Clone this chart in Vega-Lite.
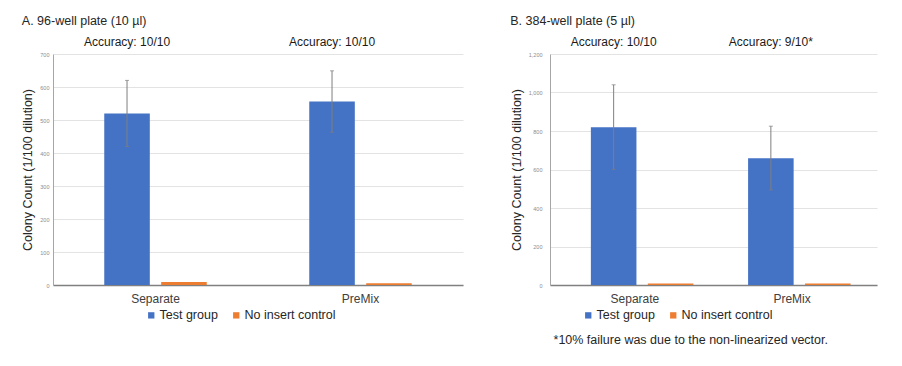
{
  "$schema": "https://vega.github.io/schema/vega-lite/v6.json",
  "padding": {"left": 21, "top": 15, "right": 5, "bottom": 5},
  "background": "white",
  "datasets": {
    "a": [
      {"method": "Separate", "group": "Test group", "count": 520, "low": 420, "high": 620, "accuracy": "Accuracy: 10/10"},
      {"method": "Separate", "group": "No insert control", "count": 9},
      {"method": "PreMix", "group": "Test group", "count": 556, "low": 463, "high": 649, "accuracy": "Accuracy: 10/10"},
      {"method": "PreMix", "group": "No insert control", "count": 5}
    ],
    "b": [
      {"method": "Separate", "group": "Test group", "count": 820, "low": 601, "high": 1040, "accuracy": "Accuracy: 10/10"},
      {"method": "Separate", "group": "No insert control", "count": 8},
      {"method": "PreMix", "group": "Test group", "count": 659, "low": 494, "high": 825, "accuracy": "Accuracy: 9/10*"},
      {"method": "PreMix", "group": "No insert control", "count": 8}
    ]
  },
  "title": {
    "text": "*10% failure was due to the non-linearized vector.",
    "orient": "bottom",
    "anchor": "end",
    "dx": -49,
    "offset": 12,
    "fontSize": 12.5,
    "fontWeight": "normal",
    "color": "#262626",
    "font": "Liberation Sans"
  },
  "spacing": 47,
  "hconcat": [
    {
      "width": 410,
      "height": 231,
      "title": {"text": "A.  96-well plate (10 µl)", "anchor": "start", "frame": "bounds", "offset": 8},
      "data": {"name": "a"},
      "encoding": {
        "x": {"field": "method", "type": "nominal", "scale": {"domain": ["Separate", "PreMix"], "paddingInner": 0.5, "paddingOuter": 0.25},
              "axis": {"title": null, "labelAngle": 0, "ticks": false, "labelPadding": 8, "labelFontSize": 12, "labelColor": "#404040", "domainColor": "#808080", "domainWidth": 1.5, "grid": false}},
        "xOffset": {"field": "group", "type": "nominal", "scale": {"domain": ["Test group", "No insert control"], "paddingInner": 0.2, "paddingOuter": 0}}
      },
      "layer": [
        {
          "mark": {"type": "bar"},
          "encoding": {
            "y": {"field": "count", "type": "quantitative", "scale": {"domain": [0, 700], "nice": false},
                  "axis": {"title": "Colony Count (1/100 dilution)", "values": [0, 100, 200, 300, 400, 500, 600, 700], "tickCount": 12, "format": ",.0f", "labelOverlap": false, "labelPadding": 4, "titlePadding": 5}},
            "color": {"field": "group", "type": "nominal", "scale": {"domain": ["Test group", "No insert control"], "range": ["#4472C4", "#ED7D31"]},
                      "legend": {"title": " ", "titleOrient": "right", "titlePadding": 36, "orient": "bottom", "direction": "horizontal", "symbolType": "square", "symbolSize": 40, "symbolStrokeWidth": 0, "labelFontSize": 12.5, "labelColor": "#262626", "labelOffset": 2, "columnPadding": 12, "offset": 5}}
          }
        },
        {
          "transform": [{"filter": "isValid(datum.low)"}],
          "mark": {"type": "rule", "color": "#7f7f7f", "strokeWidth": 1},
          "encoding": {"y": {"field": "low", "type": "quantitative", "axis": {"title": "Colony Count (1/100 dilution)", "values": [0, 100, 200, 300, 400, 500, 600, 700], "tickCount": 12, "format": ",.0f", "labelOverlap": false, "labelPadding": 4, "titlePadding": 5}}, "y2": {"field": "high"}}
        },
        {
          "transform": [{"filter": "isValid(datum.low)"}],
          "mark": {"type": "tick", "color": "#7f7f7f", "size": 4, "thickness": 1, "orient": "horizontal"},
          "encoding": {"y": {"field": "low", "type": "quantitative", "axis": {"title": "Colony Count (1/100 dilution)", "values": [0, 100, 200, 300, 400, 500, 600, 700], "tickCount": 12, "format": ",.0f", "labelOverlap": false, "labelPadding": 4, "titlePadding": 5}}}
        },
        {
          "transform": [{"filter": "isValid(datum.high)"}],
          "mark": {"type": "tick", "color": "#7f7f7f", "size": 4, "thickness": 1, "orient": "horizontal"},
          "encoding": {"y": {"field": "high", "type": "quantitative", "axis": {"title": "Colony Count (1/100 dilution)", "values": [0, 100, 200, 300, 400, 500, 600, 700], "tickCount": 12, "format": ",.0f", "labelOverlap": false, "labelPadding": 4, "titlePadding": 5}}}
        },
        {
          "transform": [{"filter": "isValid(datum.accuracy)"}],
          "mark": {"type": "text", "dy": -12.5, "fontSize": 12, "color": "#1a1a1a", "baseline": "middle"},
          "encoding": {"y": {"datum": 700, "type": "quantitative", "axis": {"title": "Colony Count (1/100 dilution)", "values": [0, 100, 200, 300, 400, 500, 600, 700], "tickCount": 12, "format": ",.0f", "labelOverlap": false, "labelPadding": 4, "titlePadding": 5}}, "text": {"field": "accuracy"}}
        }
      ]
    },
    {
      "width": 327,
      "height": 231,
      "title": {"text": "B.  384-well plate (5 µl)", "anchor": "start", "frame": "bounds", "offset": 8},
      "data": {"name": "b"},
      "encoding": {
        "x": {"field": "method", "type": "nominal", "scale": {"domain": ["Separate", "PreMix"], "paddingInner": 0.44, "paddingOuter": 0.26},
              "axis": {"title": null, "labelAngle": 0, "ticks": false, "labelPadding": 8, "labelFontSize": 12, "labelColor": "#404040", "domainColor": "#808080", "domainWidth": 1.5, "grid": false}},
        "xOffset": {"field": "group", "type": "nominal", "scale": {"domain": ["Test group", "No insert control"], "paddingInner": 0.2, "paddingOuter": 0}}
      },
      "layer": [
        {
          "mark": {"type": "bar"},
          "encoding": {
            "y": {"field": "count", "type": "quantitative", "scale": {"domain": [0, 1200], "nice": false},
                  "axis": {"title": "Colony Count (1/100 dilution)", "values": [0, 200, 400, 600, 800, 1000, 1200], "tickCount": 12, "format": ",.0f", "labelOverlap": false, "labelPadding": 8, "titlePadding": 5}},
            "color": {"field": "group", "type": "nominal", "scale": {"domain": ["Test group", "No insert control"], "range": ["#4472C4", "#ED7D31"]},
                      "legend": {"title": " ", "titleOrient": "right", "titlePadding": 73, "orient": "bottom", "direction": "horizontal", "symbolType": "square", "symbolSize": 40, "symbolStrokeWidth": 0, "labelFontSize": 12.5, "labelColor": "#262626", "labelOffset": 2, "columnPadding": 12, "offset": 5}}
          }
        },
        {
          "transform": [{"filter": "isValid(datum.low)"}],
          "mark": {"type": "rule", "color": "#7f7f7f", "strokeWidth": 1},
          "encoding": {"y": {"field": "low", "type": "quantitative", "axis": {"title": "Colony Count (1/100 dilution)", "values": [0, 200, 400, 600, 800, 1000, 1200], "tickCount": 12, "format": ",.0f", "labelOverlap": false, "labelPadding": 8, "titlePadding": 5}}, "y2": {"field": "high"}}
        },
        {
          "transform": [{"filter": "isValid(datum.low)"}],
          "mark": {"type": "tick", "color": "#7f7f7f", "size": 4, "thickness": 1, "orient": "horizontal"},
          "encoding": {"y": {"field": "low", "type": "quantitative", "axis": {"title": "Colony Count (1/100 dilution)", "values": [0, 200, 400, 600, 800, 1000, 1200], "tickCount": 12, "format": ",.0f", "labelOverlap": false, "labelPadding": 8, "titlePadding": 5}}}
        },
        {
          "transform": [{"filter": "isValid(datum.high)"}],
          "mark": {"type": "tick", "color": "#7f7f7f", "size": 4, "thickness": 1, "orient": "horizontal"},
          "encoding": {"y": {"field": "high", "type": "quantitative", "axis": {"title": "Colony Count (1/100 dilution)", "values": [0, 200, 400, 600, 800, 1000, 1200], "tickCount": 12, "format": ",.0f", "labelOverlap": false, "labelPadding": 8, "titlePadding": 5}}}
        },
        {
          "transform": [{"filter": "isValid(datum.accuracy)"}],
          "mark": {"type": "text", "dy": -12.5, "fontSize": 12, "color": "#1a1a1a", "baseline": "middle"},
          "encoding": {"y": {"datum": 1200, "type": "quantitative", "axis": {"title": "Colony Count (1/100 dilution)", "values": [0, 200, 400, 600, 800, 1000, 1200], "tickCount": 12, "format": ",.0f", "labelOverlap": false, "labelPadding": 8, "titlePadding": 5}}, "text": {"field": "accuracy"}}
        }
      ]
    }
  ],
  "resolve": {"scale": {"color": "independent"}},
  "config": {
    "font": "Liberation Sans",
    "view": {"stroke": null},
    "title": {"fontSize": 12.5, "fontWeight": "normal", "color": "#262626"},
    "axisY": {"ticks": false, "domainColor": "#a6a6a6", "gridColor": "#e3e3e3", "labelFontSize": 5.5, "labelColor": "#8c8c8c", "titleFontSize": 12.5, "titleFontWeight": "normal", "titleColor": "#262626"},
    "legend": {"labelFont": "Liberation Sans", "layout": {"anchor": "middle", "bottom": {"anchor": "middle"}}}
  }
}
